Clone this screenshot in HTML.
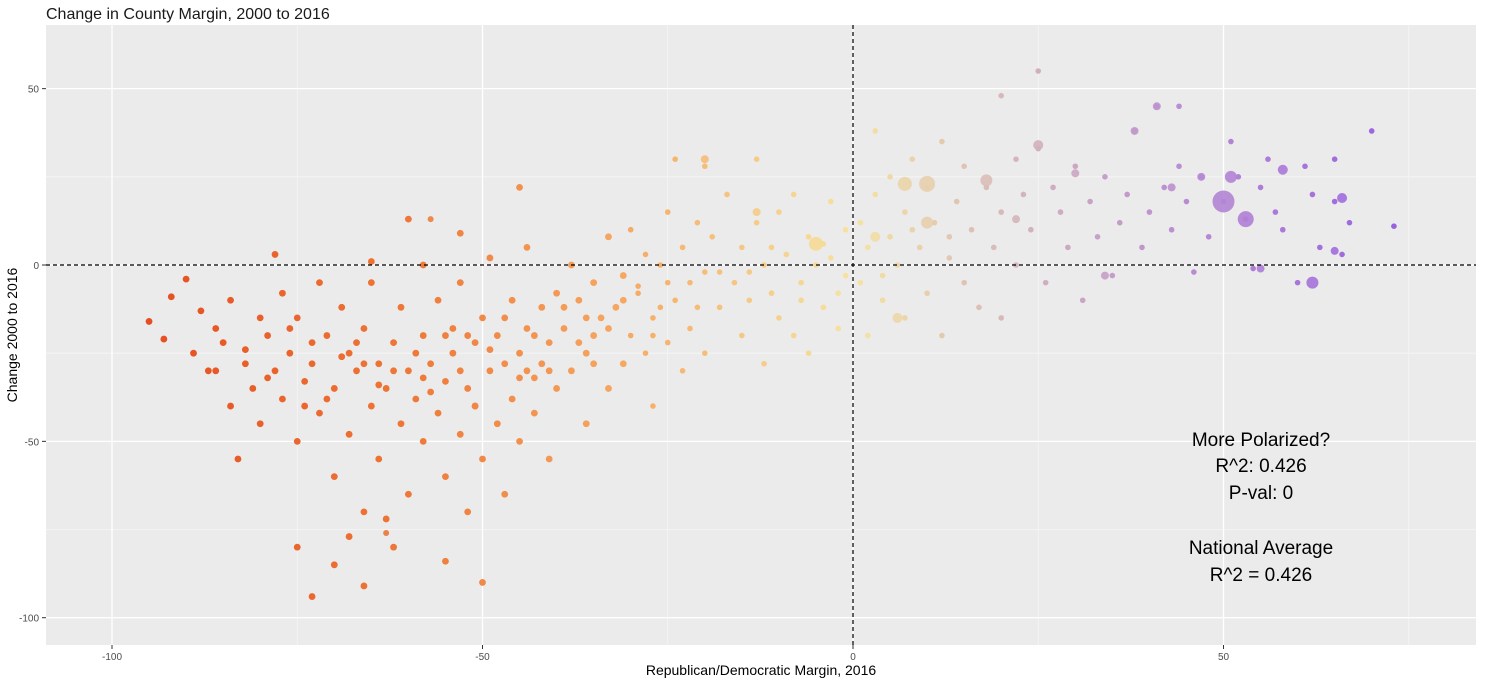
<!DOCTYPE html>
<html><head><meta charset="utf-8"><style>
body{margin:0;background:#fff;font-family:"Liberation Sans",sans-serif;}
svg text{font-family:"Liberation Sans",sans-serif;}
</style></head><body>
<svg id="chart" width="1486" height="680" xmlns="http://www.w3.org/2000/svg">
<text x="46" y="19" font-size="16" fill="#1a1a1a">Change in County Margin, 2000 to 2016</text>
<rect x="46" y="25" width="1430" height="620" fill="#ebebeb"/>
<g id="grid"></g><g id="points"></g><g id="axes"></g>
<g font-size="19" fill="#000" text-anchor="middle">
<text x="1261" y="446">More Polarized?</text>
<text x="1261" y="472">R^2: 0.426</text>
<text x="1261" y="499">P-val: 0</text>
<text x="1261" y="554">National Average</text>
<text x="1261" y="581">R^2 = 0.426</text>
</g>
<text x="761" y="675" font-size="14" text-anchor="middle" fill="#000">Republican/Democratic Margin, 2016</text>
<text transform="translate(17,335) rotate(-90)" font-size="14" text-anchor="middle" fill="#000">Change 2000 to 2016</text>
</svg>
<script>
const xTicks=[-100,-50,0,50];
const yTicks=[50,0,-50,-100];
const xMinor=[-75,-25,25,75];
const yMinor=[25,-25,-75];
const smallX=[-95,-93,-92,-90,-89,-88,-87,-86,-85,-84,-84,-83,-82,-81,-80,-80,-79,-78,-77,-77,-76,-75,-75,-74,-73,-72,-72,-71,-70,-70,-69,-68,-68,-67,-66,-66,-65,-65,-64,-64,-63,-62,-62,-61,-61,-60,-60,-59,-58,-58,
-57,-56,-56,-55,-55,-54,-54,-53,-53,-52,-52,-51,-51,-50,-50,-49,-49,-48,-48,-47,-47,-46,-46,-45,-45,-44,-44,-43,-43,-42,-42,-41,-41,-40,-40,
-73,-66,-70,-75,-68,-55,-50,-63,-78,-60,-53,-45,-58,-65,
-39,-38,-38,-37,-36,-36,-35,-35,-34,-33,-33,-32,-31,-31,-30,-30,-29,-28,-28,-27,-27,-26,-25,-25,-24,-23,-23,-22,-22,-21,-20,-20,-19,-18,-17,-20,-24,
-16,-15,-15,-14,-13,-12,-12,-11,-10,-10,-9,-8,-8,-7,-6,-6,-5,-4,-4,-3,-2,-2,-1,-1,-13,
1,1,2,2,3,3,4,5,5,6,7,7,8,9,10,10,11,12,12,13,14,15,15,16,17,18,19,20,20,22,
22,23,24,25,25,26,27,28,29,30,31,32,33,34,35,36,37,38,39,40,41,42,43,44,45,46,47,48,50,51,52,53,54,55,56,57,58,60,61,62,63,65,66,67,70,73,65,20,44,
-82,-79,-76,-73,-71,-69,-67,-64,-62,-59,-57,-55,-53,-51,-49,-47,-45,-43,-41,-39,-37,-35,-33,-31,-29,-27,-25,-21,-18,-14,-11,-7,-3,4,8,13,-86,-74,-66,-58,-52,-44,-36,-26];
const smallY=[-16,-21,-9,-4,-25,-13,-30,-18,-22,-40,-10,-55,-28,-35,-15,-45,-20,-30,-8,-38,-25,-50,-15,-33,-28,-42,-5,-20,-60,-35,-12,-48,-25,-30,-70,-18,-40,-5,-55,-28,-35,-22,-80,-45,-12,-30,-65,-38,-20,-50,
-28,-10,-42,-33,-60,-18,-25,-48,-5,-35,-70,-22,-40,-15,-55,-30,2,-45,-20,-28,-65,-10,-38,-25,-50,-18,5,-32,-42,-12,-28,-22,-55,-8,-35,
-94,-91,-85,-80,-77,-84,-90,-72,3,13,9,22,0,1,
-18,-30,0,-10,-25,-45,-5,-20,-15,-35,8,-12,-28,-3,-20,10,-8,-25,3,-15,-40,0,-22,15,-10,-30,5,-5,-18,12,-2,-25,8,-12,20,28,30,
-5,5,-20,-10,12,0,-28,-8,15,-15,3,-20,20,-5,8,-25,0,-12,6,18,-8,-18,10,-3,30,
-5,12,5,-20,20,38,-10,8,25,0,-15,15,30,5,-8,22,12,-20,35,2,18,-5,28,10,-12,22,5,15,-15,30,
0,20,10,33,55,-5,22,15,5,28,-10,18,8,25,-3,12,20,38,5,15,45,22,10,28,18,-2,25,8,18,35,25,13,-1,22,30,15,10,-5,28,20,5,18,3,12,38,11,30,48,45,
-24,-32,-18,-22,-38,-26,-22,-34,-30,-25,-36,-20,-30,-40,-24,-15,-32,-20,-30,-12,-22,-28,-18,-10,-6,-20,-5,-12,-2,-2,5,-10,2,-3,10,8,-30,-40,-28,-32,-20,-30,-15,-12];
const bigX=[50,53,51,10,7,-5,25,18,62,38,66,41,58,-57,-20,10,3,-13,47,65,55,30,22,-63,6,34,43];
const bigY=[18,13,25,23,23,6,34,24,-5,38,19,45,27,13,30,12,8,15,25,4,-1,26,13,-76,-15,-3,22];
const bigR=[11,8,6,8,7,7,5,6,6,4,5,4,5,3,4,6,5,4,4,4,4,4,4,3,5,4,4];

const NS="http://www.w3.org/2000/svg";
const sx=v=>853+(v*7.41);
const sy=v=>265-(v*3.527);
const L=46,R=1476,T=25,B=645;
function mk(tag,attrs,parent){const e=document.createElementNS(NS,tag);for(const k in attrs)e.setAttribute(k,attrs[k]);parent.appendChild(e);return e;}
const grid=document.getElementById('grid'),axes=document.getElementById('axes'),pts=document.getElementById('points');
xMinor.forEach(v=>{const l=mk('line',{x1:sx(v),x2:sx(v),y1:T,y2:B,stroke:'#f6f6f6','stroke-width':0.8},grid);

});
yMinor.forEach(v=>{const l=mk('line',{x1:L,x2:R,y1:sy(v),y2:sy(v),stroke:'#f6f6f6','stroke-width':0.8},grid);

});
xTicks.forEach(v=>{const l=mk('line',{x1:sx(v),x2:sx(v),y1:T,y2:B,stroke:'#fff','stroke-width':1.3},grid);


mk('line',{x1:sx(v),x2:sx(v),y1:B,y2:B+4,stroke:'#333'},axes);
const t=mk('text',{x:sx(v),y:B+15,'font-size':10,'text-anchor':'middle',fill:'#4d4d4d'},axes);t.textContent=v;

});
yTicks.forEach(v=>{const l=mk('line',{x1:L,x2:R,y1:sy(v),y2:sy(v),stroke:'#fff','stroke-width':1.3},grid);


mk('line',{x1:L-4,x2:L,y1:sy(v),y2:sy(v),stroke:'#333'},axes);
const t=mk('text',{x:L-7,y:sy(v)+4,'font-size':10,'text-anchor':'end',fill:'#4d4d4d'},axes);t.textContent=v;

});
const stops=[[-100,[228,72,30]],[-60,[238,120,55]],[-30,[246,170,100]],[0,[246,228,160]],[20,[215,185,185]],[45,[185,140,210]],[75,[150,95,225]]];
function col(x){if(x<=stops[0][0])return 'rgb('+stops[0][1]+')';for(let i=1;i<stops.length;i++){if(x<=stops[i][0]){const a=stops[i-1],b=stops[i],t=(x-a[0])/(b[0]-a[0]);return 'rgb('+a[1].map((c,j)=>Math.round(c+(b[1][j]-c)*t)).join(',')+')';}}return 'rgb('+stops[stops.length-1][1]+')';}
smallX.forEach((x,i)=>{const c=mk('circle',{cx:sx(x),cy:sy(smallY[i]),r:x<-30?3.4:2.8,fill:col(x)},pts);

});
bigX.forEach((x,i)=>{const c=mk('circle',{cx:sx(x),cy:sy(bigY[i]),r:bigR[i],fill:col(x),opacity:0.9},pts);

});
const v=mk('line',{x1:sx(0),x2:sx(0),y1:T,y2:B,stroke:'#000','stroke-dasharray':'4,3','stroke-width':1.2},pts);


const h=mk('line',{x1:L,x2:R,y1:sy(0),y2:sy(0),stroke:'#000','stroke-dasharray':'4,3','stroke-width':1.2},pts);


</script>
</body></html>
